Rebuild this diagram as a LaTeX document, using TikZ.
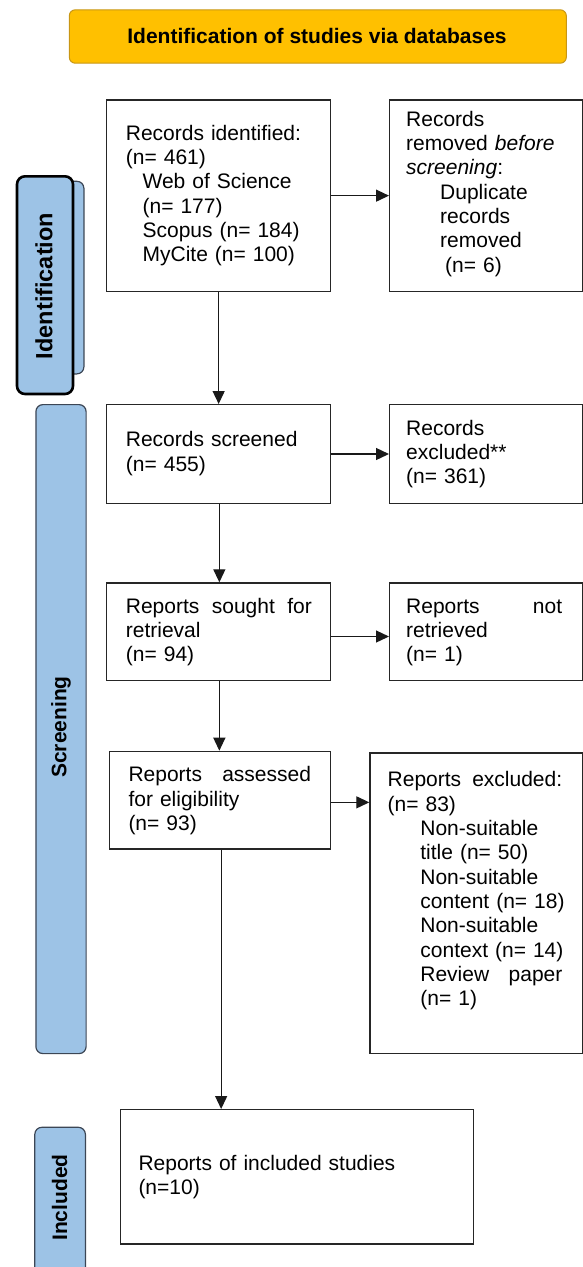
\documentclass[tikz,border=0pt]{standalone}
\usepackage{fontspec}
\setmainfont{Liberation Sans}
\usetikzlibrary{arrows.meta}
\definecolor{gold}{RGB}{255,192,0}
\definecolor{goldline}{RGB}{200,150,20}
\definecolor{sideblue}{RGB}{157,195,230}
\definecolor{sideline}{RGB}{60,70,85}
\tikzset{
  box/.style={draw=black!85, line width=1.3pt, inner sep=0pt, anchor=north west},
  sidebox/.style={draw=sideline, fill=sideblue, line width=1.2pt, rounded corners=7pt, inner sep=0pt, anchor=north west},
  txt/.style={anchor=base west, inner sep=0pt, text width=300pt, align=left,
    font=\fontsize{21pt}{24.35pt}\selectfont},
  side/.style={rotate=90, inner sep=0pt, font=\bfseries\fontsize{21pt}{24pt}\selectfont},
  arr/.style={draw=black!90, line width=1.3pt, -{Triangle[length=13pt,width=12pt]}}
}
\begin{document}
\begin{tikzpicture}[x=1pt,y=-1pt]
\useasboundingbox (0,0) rectangle (583,1267);
\clip (0,0) rectangle (583,1267);
% title
\node[draw=goldline, fill=gold, line width=1pt, rounded corners=6pt, inner sep=0pt,
  minimum width=497pt, minimum height=53.4pt, anchor=north west] (title) at (68.8,9.3) {};
\node[anchor=base, inner sep=0pt, font=\bfseries\fontsize{21pt}{24pt}\selectfont] (titletext) at (317,43.3) {Identification of studies via databases};
% side labels
\node[sidebox, minimum width=48.3pt, minimum height=192.6pt] (idback) at (35,180.7) {};
\node[sidebox, draw=black, line width=2.6pt, rounded corners=8pt, minimum width=56pt, minimum height=217.7pt] (idfront) at (15.7,175) {};
\node[side, font=\bfseries\fontsize{23.5pt}{26pt}\selectfont] (idtext) at (44,286) {Identification};
\node[sidebox, minimum width=50.2pt, minimum height=649pt] (scr) at (35.3,404) {};
\node[side] (scrtext) at (61,727) {Screening};
\node[sidebox, minimum width=50.6pt, minimum height=170pt] (inc) at (34.2,1126.7) {};
\node[side] (inctext) at (59.5,1197.5) {Included};
% boxes
\node[box, minimum width=224pt, minimum height=191.4pt] (b1) at (106,99.3) {};
\node[box, minimum width=193pt, minimum height=191.4pt] (rem) at (389,99.3) {};
\node[box, minimum width=224pt, minimum height=98.7pt] (b2) at (106,404) {};
\node[box, minimum width=193pt, minimum height=98.7pt] (exc) at (389,404) {};
\node[box, minimum width=224pt, minimum height=97.7pt] (b3) at (106,582.3) {};
\node[box, minimum width=193pt, minimum height=97.7pt] (nr) at (389,582.3) {};
\node[box, minimum width=221pt, minimum height=97.6pt] (b4) at (109,750.7) {};
\node[box, minimum width=212.7pt, minimum height=300.4pt] (rex) at (369.3,752.3) {};
\node[box, minimum width=353pt, minimum height=134.3pt] (b5) at (120,1109) {};
% texts
\node[txt] (t1) at (125.7,140) {Records identified:\\(n= 461)\\\hspace*{16.7pt}Web of Science\\\hspace*{16.7pt}(n= 177)\\\hspace*{16.7pt}Scopus (n= 184)\\\hspace*{16.7pt}MyCite (n= 100)};
\node[txt] (trem) at (406,126) {Records\\removed \textit{before}\\\textit{screening}:\\\hspace*{34pt}Duplicate\\\hspace*{34pt}records\\\hspace*{34pt}removed\\\hspace*{39pt}(n= 6)};
\node[txt] (t2) at (125.7,446.7) {Records screened\\(n= 455)};
\node[txt] (texc) at (406,435) {Records\\excluded**\\(n= 361)};
\node[txt] (t3) at (125.7,613) {\makebox[186pt][l]{Reports\hfill sought\hfill for}\\retrieval\\(n= 94)};
\node[txt] (tnr) at (406,613) {\makebox[156pt][l]{Reports\hfill not}\\retrieved\\(n= 1)};
\node[txt] (t4) at (128.3,781.7) {\makebox[182.5pt][l]{Reports\hfill assessed}\\for eligibility\\(n= 93)};
\node[txt] (trex) at (387.5,786.7) {\makebox[174.5pt][l]{Reports\hfill excluded:}\\(n= 83)\\\hspace*{32.7pt}Non-suitable\\\hspace*{32.7pt}title (n= 50)\\\hspace*{32.7pt}Non-suitable\\\hspace*{32.7pt}content (n= 18)\\\hspace*{32.7pt}Non-suitable\\\hspace*{32.7pt}context (n= 14)\\\hspace*{32.7pt}\makebox[142pt][l]{Review\hfill paper}\\\hspace*{32.7pt}(n= 1)};
\node[txt] (t5) at (138.3,1170) {Reports of included studies\\(n=10)};
% arrows
\draw[arr] (b1.east) -- (rem.west);
\draw[arr] (b1.south) -- (b2.north);
\draw[arr] (b2.east) -- (exc.west);
\draw[arr] ([xshift=0.7pt]b2.south) -- ([xshift=0.7pt]b3.north);
\draw[arr] ([yshift=-4.7pt]b3.east) -- ([yshift=-4.7pt]b3.east -| nr.west);
\draw[arr] ([xshift=0.7pt]b3.south) -- ([xshift=0.7pt]b3.south |- b4.north);
\draw[arr] ([yshift=-2.2pt]b4.east) -- ([yshift=-2.2pt]b4.east -| rex.west);
\draw[arr] ([xshift=1pt]b4.south) -- ([xshift=1pt]b4.south |- b5.north);
\end{tikzpicture}
\end{document}
